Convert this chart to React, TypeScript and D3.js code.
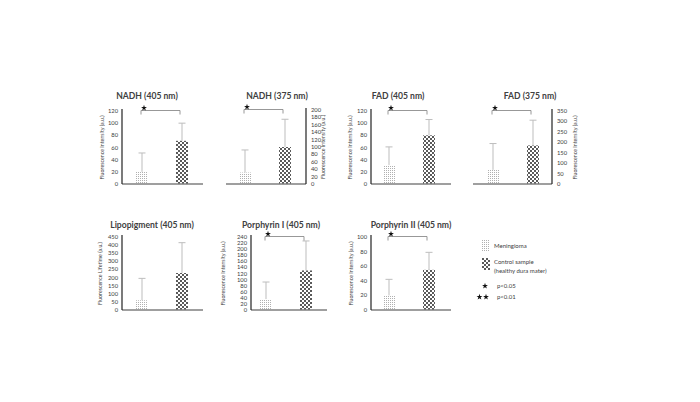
import React from "react";
import * as d3 from "d3";

// ---------- data ----------
const categories = ["Meningioma", "Control sample (healthy dura mater)"];
const panelTitles = [
  "NADH (405 nm)",
  "NADH (375 nm)",
  "FAD (405 nm)",
  "FAD (375 nm)",
  "Lipopigment (405 nm)",
  "Porphyrin I (405 nm)",
  "Porphyrin II (405 nm)",
];
const yAxisTitles = [
  "Fluorescence Intensity (a.u.)",
  "Fluorescence Intensity (a.u.)",
  "Fluorescence Intensity (a.u.)",
  "Fluorescence Intensity (a.u.)",
  "Fluorescence Lifetime (a.u.)",
  "Fluorescence Intensity (a.u.)",
  "Fluorescence Intensity (a.u.)",
];
const meningiomaMeans = [20, 31, 31, 68, 60, 36, 20];
const meningiomaSD = [31, 61, 30, 126, 135, 56, 22];
const controlMeans = [71, 100, 80, 185, 228, 130, 55];
const controlSD = [29, 75, 26, 121, 187, 97, 24];
const yMax = [120, 200, 120, 350, 450, 240, 100];
const yStep = [20, 20, 20, 50, 50, 20, 20];
const starCounts = [1, 1, 1, 1, 0, 1, 1];
const legendLabels = ["Meningioma", "Control sample", "(healthy dura mater)", "p<0.05", "p<0.01"];

// ---------- layout ----------
type Layout = {
  axisX: number;
  side: "left" | "right";
  xStart: number;
  lineStart: number;
  lineEnd: number;
  top: number;
  bottom: number;
  titleX: number;
  titleY: number;
  yTitleOffset: number;
};
const layouts: Layout[] = [
  { axisX: 122, side: "left", xStart: 122, lineStart: 122, lineEnd: 203, top: 111, bottom: 184, titleX: 147, titleY: 99, yTitleOffset: 18 },
  { axisX: 306, side: "right", xStart: 225, lineStart: 226, lineEnd: 306, top: 110, bottom: 184, titleX: 277, titleY: 99, yTitleOffset: 17 },
  { axisX: 371, side: "left", xStart: 369, lineStart: 371, lineEnd: 451, top: 111, bottom: 184, titleX: 398, titleY: 99, yTitleOffset: 19 },
  { axisX: 552, side: "right", xStart: 473, lineStart: 473, lineEnd: 552, top: 111, bottom: 184, titleX: 530, titleY: 99, yTitleOffset: 23 },
  { axisX: 122, side: "left", xStart: 122, lineStart: 122, lineEnd: 203, top: 237, bottom: 310, titleX: 152, titleY: 228, yTitleOffset: 20 },
  { axisX: 251, side: "left", xStart: 246, lineStart: 251, lineEnd: 327, top: 237, bottom: 310, titleX: 281, titleY: 228, yTitleOffset: 26 },
  { axisX: 371, side: "left", xStart: 369, lineStart: 371, lineEnd: 451, top: 237, bottom: 310, titleX: 411, titleY: 228, yTitleOffset: 18 },
];

const FONT = "Lato, 'Open Sans', sans-serif";
const BAR_W = 12;

function Star({ x, y }: { x: number; y: number }) {
  const path = d3.symbol().type(d3.symbolStar).size(11)() as string;
  return <path d={path} transform={`translate(${x},${y})`} fill="#111" />;
}

function Panel({ i }: { i: number }) {
  const L = layouts[i];
  const x = d3.scalePoint<string>().domain(categories).range([L.xStart, L.xStart + 80]).padding(0.5);
  const y = d3.scaleLinear().domain([0, yMax[i]]).range([L.bottom, L.top]);
  const ticks = d3.range(0, yMax[i] + 0.001, yStep[i]);
  const means = [meningiomaMeans[i], controlMeans[i]];
  const sds = [meningiomaSD[i], controlSD[i]];
  const fills = ["url(#dotsPat)", "url(#checkPat)"];
  const right = L.side === "right";
  const labelX = right ? L.axisX + 5 : L.axisX - 4;
  const yMid = (L.top + L.bottom) / 2;
  const yTitleX = right ? L.axisX + L.yTitleOffset : L.axisX - L.yTitleOffset;
  const cx0 = x(categories[0])!;
  const cx1 = x(categories[1])!;
  const bracketY = y(yMax[i]) - 0.5;
  return (
    <g>
      <text x={L.titleX} y={L.titleY} textAnchor="middle" fontFamily={FONT} fontWeight="bold" fontSize={8.6} fill="#404040">
        {panelTitles[i]}
      </text>
      {categories.map((c, k) => (
        <g key={c}>
          <rect x={x(c)! - BAR_W / 2} y={y(means[k])} width={BAR_W} height={L.bottom - y(means[k])} fill={fills[k]} />
          <line x1={x(c)!} x2={x(c)!} y1={y(means[k])} y2={y(means[k] + sds[k])} stroke="#bdbdbd" strokeWidth={1} />
          <line x1={x(c)! - 3.5} x2={x(c)! + 3.5} y1={y(means[k] + sds[k])} y2={y(means[k] + sds[k])} stroke="#bdbdbd" strokeWidth={1} />
        </g>
      ))}
      <line x1={L.lineStart} x2={L.lineEnd} y1={L.bottom} y2={L.bottom} stroke="#7f7f7f" strokeWidth={1.6} />
      <line x1={L.axisX} x2={L.axisX} y1={L.bottom} y2={L.top - 2} stroke="#222" strokeWidth={1.2} />
      {ticks.map((t) => (
        <text key={t} x={labelX} y={y(t) + 2} textAnchor={right ? "start" : "end"} fontFamily={FONT} fontSize={5.8} fill="#404040">
          {t}
        </text>
      ))}
      <text
        transform={`translate(${yTitleX},${yMid}) rotate(-90)`}
        textAnchor="middle"
        fontFamily={FONT}
        fontSize={5.3}
        fill="#404040"
        dy={right ? 2 : 0}
      >
        {yAxisTitles[i]}
      </text>
      {starCounts[i] > 0 && (
        <g>
          <path
            d={`M${cx0 - 1},${bracketY + 4}V${bracketY}H${cx1 - 2}V${bracketY + 4}`}
            fill="none"
            stroke="#8c8c8c"
            strokeWidth={0.9}
          />
          {d3.range(starCounts[i]).map((s) => (
            <Star key={s} x={cx0 + 2 + s * 6} y={bracketY - 2.5} />
          ))}
        </g>
      )}
    </g>
  );
}

export default function App() {
  return (
    <svg width={700} height={402} style={{ position: "absolute", left: 0, top: 0, background: "#fff" }}>
      <defs>
        <pattern id="dotsPat" width={2} height={2} patternUnits="userSpaceOnUse">
          <rect width={2} height={2} fill="#fff" />
          <rect x={0} y={0} width={1} height={1} fill="#b0b0b0" />
        </pattern>
        <pattern id="checkPat" width={4} height={4} patternUnits="userSpaceOnUse">
          <rect width={4} height={4} fill="#fff" />
          <rect x={0} y={0} width={2} height={2} fill="#5a5a5a" />
          <rect x={2} y={2} width={2} height={2} fill="#5a5a5a" />
        </pattern>
      </defs>
      <rect width={700} height={402} fill="#fff" />
      {layouts.map((_, i) => (
        <Panel key={i} i={i} />
      ))}
      <g fontFamily={FONT} fontSize={6} fill="#404040">
        <rect x={482} y={240} width={8} height={11} fill="url(#dotsPat)" />
        <text x={494} y={248}>{legendLabels[0]}</text>
        <rect x={482} y={258} width={8} height={12} fill="url(#checkPat)" />
        <text x={494} y={264}>{legendLabels[1]}</text>
        <text x={494} y={273}>{legendLabels[2]}</text>
        <Star x={485} y={286} />
        <text x={497} y={288}>{legendLabels[3]}</text>
        <Star x={479.5} y={297} />
        <Star x={486} y={297} />
        <text x={497} y={299}>{legendLabels[4]}</text>
      </g>
    </svg>
  );
}
